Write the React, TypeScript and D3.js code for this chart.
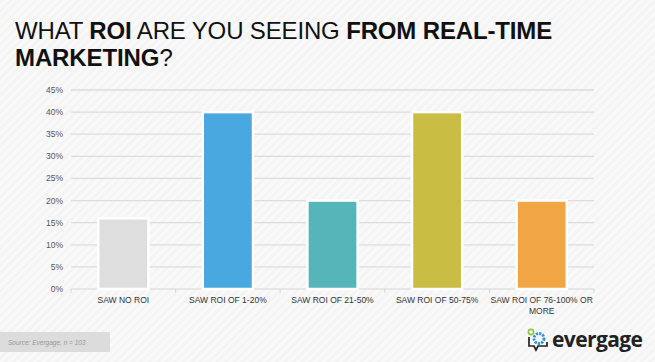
import React from "react";
import * as d3 from "d3";

const categories = ["SAW NO ROI", "SAW ROI OF 1-20%", "SAW ROI OF 21-50%", "SAW ROI OF 50-75%", "SAW ROI OF 76-100% OR MORE"];
const values = [16, 40, 20, 40, 20];
const colors = ["#dedede", "#4aa8e0", "#56b5b9", "#c9bd43", "#f1a545"];
const yTicks = [0, 5, 10, 15, 20, 25, 30, 35, 40, 45];

const W = 655, H = 362;
const M = { left: 71, right: 61, top: 90, bottom: 73 };

function wrapLabel(s: string): string[] {
  if (s.length > 22) {
    const idx = s.lastIndexOf(" ");
    return [s.slice(0, idx), s.slice(idx + 1)];
  }
  return [s];
}

export default function App() {
  const x = d3.scaleBand<string>().domain(categories).range([M.left, W - M.right]).paddingInner(0.52).paddingOuter(0.26);
  const xb = d3.scaleBand<string>().domain(categories).range([M.left, W - M.right]);
  const y = d3.scaleLinear().domain([0, 45]).range([H - M.bottom, M.top]);
  const font = "'Liberation Sans', Arial, Helvetica, sans-serif";
  return (
    <svg width={W} height={H} style={{ position: "absolute", left: 0, top: 0, display: "block" }} fontFamily={font}>
      <defs>
        <pattern id="stripes" width="6" height="6" patternUnits="userSpaceOnUse" patternTransform="rotate(45)">
          <rect width="6" height="6" fill="#f9f9f9" />
          <rect width="3" height="6" fill="#f4f4f4" />
        </pattern>
      </defs>
      <rect width={W} height={H} fill="url(#stripes)" />
      <text x={15} y={39} fontSize={24} fill="#111" letterSpacing={-0.15}>
        <tspan>WHAT </tspan>
        <tspan fontWeight="bold">ROI</tspan>
        <tspan> ARE YOU SEEING </tspan>
        <tspan fontWeight="bold">FROM REAL-TIME</tspan>
      </text>
      <text x={15} y={66} fontSize={24} fill="#111" letterSpacing={-0.1}>
        <tspan fontWeight="bold">MARKETING</tspan>
        <tspan>?</tspan>
      </text>
      {yTicks.filter(t => t > 0).map(t => (
        <line key={t} x1={M.left} x2={W - M.right} y1={y(t)} y2={y(t)} stroke="#dcdcdc" strokeWidth={1.3} />
      ))}
      <line x1={M.left} x2={W - M.right} y1={y(0)} y2={y(0)} stroke="#d6d6d6" strokeWidth={1} />
      {categories.map((c, i) => (
        <line key={"t" + i} x1={xb(c)!} x2={xb(c)!} y1={y(0)} y2={y(0) + 4} stroke="#d6d6d6" />
      ))}
      <line x1={W - M.right} x2={W - M.right} y1={y(0)} y2={y(0) + 4} stroke="#d6d6d6" />
      {yTicks.map(t => (
        <text key={"y" + t} x={63} y={y(t) + 3} fontSize={8.5} fill="#555" textAnchor="end">{t}%</text>
      ))}
      {categories.map((c, i) => (
        <rect key={c} x={x(c)!} y={y(values[i])} width={x.bandwidth()} height={y(0) - y(values[i])} fill={colors[i]} stroke="#fff" strokeWidth={2.5} />
      ))}
      {categories.map((c, i) => (
        <text key={"l" + c} x={xb(c)! + xb.bandwidth() / 2} y={303} fontSize={8.5} fill="#333" textAnchor="middle">
          {wrapLabel(c).map((ln, j) => (
            <tspan key={j} x={xb(c)! + xb.bandwidth() / 2} dy={j === 0 ? 0 : 11}>{ln}</tspan>
          ))}
        </text>
      ))}
      <rect x={0} y={332} width={110} height={20} fill="#dcdcdc" />
      <text x={8} y={345} fontSize={6.5} fill="#999" fontStyle="italic">Source: Evergage, n = 103</text>
      <g>
        <circle cx={531} cy={332} r={2.6} fill="none" stroke="#8cc63f" strokeWidth={1.6} />
        <circle cx={539} cy={338.5} r={5} fill="none" stroke="#2f8fd8" strokeWidth={2.8} strokeDasharray="2.2 1.1" />
        <path d="M529,337 L529,346 L534,346 L536,350 L538,346 L547,346 L547,342" fill="none" stroke="#222" strokeWidth={1.7} />
        <text x={552} y={347} fontSize={21} fill="#222" fontWeight={700} fontFamily="'Open Sans', sans-serif" letterSpacing={-0.6}>evergage</text>
      </g>
    </svg>
  );
}
